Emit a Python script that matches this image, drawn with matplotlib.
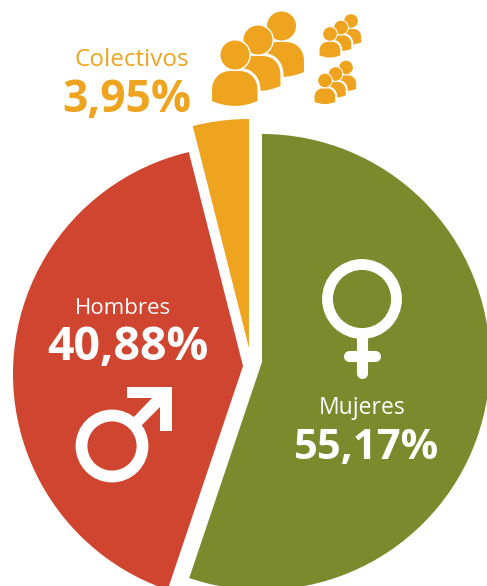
import matplotlib
matplotlib.use("Agg")
import matplotlib.pyplot as plt
from matplotlib.patches import Wedge, Circle, PathPatch, Polygon
from matplotlib.path import Path

# DATOS
CATEGORIAS = ["Mujeres", "Hombres", "Colectivos"]
VALORES    = [55.17, 40.88, 3.95]
ETIQUETAS  = ["55,17%", "40,88%", "3,95%"]

# ESTILO
COLORES  = ["#7A8A2D", "#D04530", "#EEA41F"]
CENTROS  = [(262, 362), (243, 366), (249, 348)]   # cada porción va separada
ARCOS    = [((262, 362), 228), ((241, 374), 228), ((249, 348), 229)]
FUENTE   = "Open Sans"
BLANCO   = "white"

fig = plt.figure(figsize=(4.87, 5.86), dpi=100)
ax = fig.add_axes([0, 0, 1, 1])
ax.set_xlim(0, 487)
ax.set_ylim(586, 0)
ax.axis("off")


# ============================================================
#  TORTA
# ============================================================

angulo = -90
for valor, color, centro, arco in zip(VALORES, COLORES, CENTROS, ARCOS):
    paso = valor / sum(VALORES) * 360
    w = Wedge(centro, 400, angulo, angulo + paso, facecolor=color, edgecolor="none")
    ax.add_patch(w)
    # el arco exterior no siempre es concéntrico con el vértice
    w.set_clip_path(Circle(arco[0], arco[1], transform=ax.transData))
    angulo += paso


# ============================================================
#  ICONOS
# ============================================================

def persona(cx, cy, esc):
    """Cabeza y cuerpo, con borde blanco; (cx, cy) es el centro de la cabeza."""
    codigos = [Path.MOVETO, Path.LINETO, Path.CURVE4, Path.CURVE4, Path.CURVE4,
               Path.LINETO, Path.CURVE4, Path.CURVE4, Path.CURVE4, Path.LINETO,
               Path.CURVE3, Path.CURVE3, Path.CLOSEPOLY]
    puntos = [(-24.5, 47), (-24.5, 35), (-24.5, 22), (-15, 14.5), (-5, 14.5),
              (5, 14.5), (15, 14.5), (24, 22), (24, 35), (24, 47),
              (0, 58), (-24.5, 47), (-24.5, 47)]
    puntos = [(cx + x * esc, cy + y * esc) for x, y in puntos]
    ax.add_patch(PathPatch(Path(puntos, codigos), facecolor=COLORES[2],
                           edgecolor=BLANCO, linewidth=2.2 * esc ** 0.5))
    ax.add_patch(Circle((cx, cy), 14.5 * esc + 1.4 * esc ** 0.5, facecolor=BLANCO, edgecolor="none"))
    ax.add_patch(Circle((cx, cy), 14.5 * esc, facecolor=COLORES[2], edgecolor="none"))


for cx, cy in [(281.5, 26), (258, 40), (235, 55)]:
    persona(cx, cy, 1)
for cx, cy in [(351, 21), (341, 27.5), (330, 34)]:
    persona(cx, cy, 0.47)
for cx, cy in [(346, 67.5), (335.5, 74), (325, 80.5)]:
    persona(cx, cy, 0.47)

# símbolo masculino
ax.add_patch(Circle((112, 446), 30.5, facecolor="none", edgecolor=BLANCO, linewidth=8.5))
ax.add_patch(Polygon([(127, 387), (172, 387), (172, 431), (160, 431), (160, 407),
                      (139, 428), (131, 420), (152, 398), (127, 398)],
                     closed=True, facecolor=BLANCO, edgecolor="none"))

# símbolo femenino
ax.add_patch(Circle((362, 299), 34.5, facecolor="none", edgecolor=BLANCO, linewidth=7.8))
ax.plot([362, 362], [338, 373], color=BLANCO, linewidth=8, solid_capstyle="round")
ax.plot([349, 375], [356, 356], color=BLANCO, linewidth=8, solid_capstyle="round")


# ============================================================
#  TEXTOS
# ============================================================

ax.text(132, 60, CATEGORIAS[2], color=COLORES[2], fontsize=17.5, family=FUENTE,
        ha="center", va="center")
ax.text(127, 100, ETIQUETAS[2], color=COLORES[2], fontsize=32, family=FUENTE,
        fontweight="bold", ha="center", va="center")
ax.text(123, 308, CATEGORIAS[1], color=BLANCO, fontsize=16, family=FUENTE,
        ha="center", va="center")
ax.text(128, 348, ETIQUETAS[1], color=BLANCO, fontsize=33.5, family=FUENTE,
        fontweight="bold", ha="center", va="center")
ax.text(362, 408, CATEGORIAS[0], color=BLANCO, fontsize=16.5, family=FUENTE,
        ha="center", va="center")
ax.text(367, 449, ETIQUETAS[0], color=BLANCO, fontsize=30, family=FUENTE,
        fontweight="bold", ha="center", va="center")

fig.savefig("out.png", dpi=100)
